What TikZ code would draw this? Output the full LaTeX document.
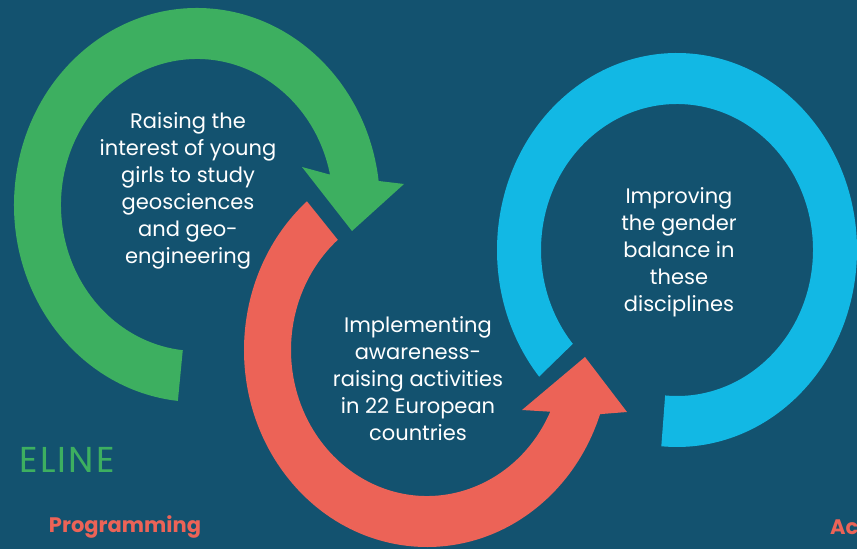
\documentclass[tikz,border=0pt]{standalone}
\usepackage{fontspec}
\setmainfont{Poppins}
\newfontfamily\spacedfont[LetterSpace=6]{Poppins}
\usetikzlibrary{calc,positioning}

\definecolor{bgteal}{HTML}{13526F}
\definecolor{arcgreen}{HTML}{3DAF60}
\definecolor{arcred}{HTML}{EC6357}
\definecolor{arcblue}{HTML}{12B8E4}

\begin{document}
\begin{tikzpicture}[x=1pt, y=1pt]

% Define styles
\tikzstyle{goaltext} = [text=white, align=center, inner sep=0pt, font=\fontsize{21}{27}\selectfont]
\tikzstyle{sidelabel} = [text=arcred, inner sep=0pt, font=\fontsize{21}{25}\selectfont\bfseries]
\tikzstyle{titlelabel} = [text=arcgreen, inner sep=0pt, font=\spacedfont\fontsize{36}{40}\selectfont]

% Background
\fill[bgteal] (0,0) rectangle (857,549);
\useasboundingbox (0,0) rectangle (857,549);

% Ring centres
\coordinate (gc) at (197,344);
\coordinate (rc) at (427,199);
\coordinate (bc) at (677,299);

% Green arrow
\fill[arcgreen] ($(gc)+(264:183 and 197)$)
  arc[start angle=264, end angle=7, x radius=183, y radius=197]
  -- (404,365) -- (352,318) -- (302,382)
  -- ($(gc)+(12:136 and 146)$)
  arc[start angle=12, end angle=264, x radius=136, y radius=146] -- cycle;

% Red arrow
\fill[arcred] ($(rc)+(131:183 and 197)$)
  arc[start angle=131, end angle=341, x radius=183, y radius=197]
  -- (627,137) -- (585,192) -- (522,139)
  -- ($(rc)+(335:136 and 146)$)
  arc[start angle=335, end angle=131, x radius=136, y radius=146] -- cycle;

% Blue ring
\fill[arcblue] ($(bc)+(220:180 and 197)$)
  arc[start angle=220, end angle=-95, x radius=180, y radius=197]
  -- ($(bc)+(-95:136 and 146)$)
  arc[start angle=-95, end angle=220, x radius=136, y radius=146] -- cycle;

% Texts inside the rings
\node (interest) [goaltext] at (188,358) {Raising the\\interest of young\\girls to study\\geosciences\\and geo-\\engineering};
\node (activities) [goaltext] at (418,170) {Implementing\\awareness-\\raising activities\\in 22 European\\countries};
\node (balance) [goaltext] at (679,297) {Improving\\the gender\\balance in\\these\\disciplines};

% Side labels
\node (pipeline) [titlelabel, anchor=east] at (115,89) {ELINE};
\node (programming) [sidelabel] at (125,22) {Programming};
\node (action) [sidelabel, anchor=west] at (830,22) {Ac};

\end{tikzpicture}
\end{document}
